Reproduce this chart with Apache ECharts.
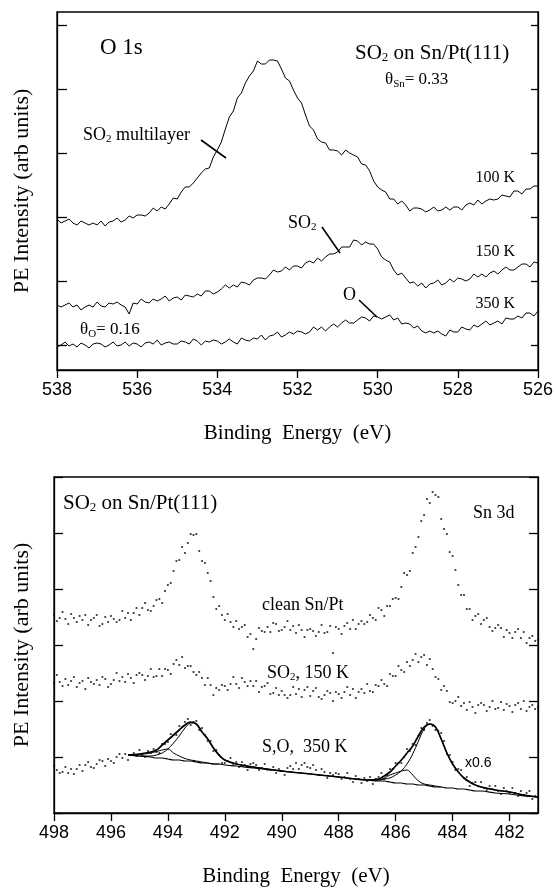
<!DOCTYPE html>
<html>
<head>
<meta charset="utf-8">
<script src="https://cdn.jsdelivr.net/npm/echarts@6/dist/echarts.min.js"></script>
<style>html,body{margin:0;padding:0;background:#fff}#main{width:556px;height:888px}</style>
</head>
<body>
<div id="main"></div>
<script>
/* O 1s spectra, binding energy 538.0 -> 526.0 eV, step 0.1 */
var o1sStart = 538.0, o1sStep = 0.1;
var o1s100 = [
151,147,149,151,147,145,149,147,145,147,
145,149,144,148,149,152,148,150,154,152,
155,155,154,157,162,159,163,161,166,172,
171,178,183,183,187,192,197,201,202,213,
220,228,241,253,259,272,277,287,294,299,
309,306,306,310,310,309,301,292,289,280,
272,267,255,244,240,231,228,227,220,220,
219,215,220,217,215,213,206,205,199,189,
183,180,178,171,171,166,169,165,159,162,
162,161,158,160,163,159,160,163,160,163,
163,160,165,167,165,170,166,169,171,170,
171,175,174,173,179,179,176,181,181,184,
184];
var o1s150 = [
65,63,65,67,63,65,60,63,65,63,
68,64,63,67,66,68,65,63,56,67,
66,71,68,67,71,69,71,74,69,72,
73,70,75,74,73,76,74,79,79,76,
78,81,85,82,85,83,88,87,85,90,
92,92,91,95,100,98,99,103,100,104,
104,102,107,109,107,112,109,113,116,116,
118,123,123,123,130,129,125,128,126,126,
121,113,110,108,100,95,97,92,87,88,
84,87,82,86,87,90,85,87,91,88,
92,91,89,91,96,93,96,93,97,99,
96,100,103,100,100,103,106,106,103,108,
107];
var o1s350 = [
23,25,28,24,26,23,27,25,22,26,
27,26,23,25,28,24,25,28,24,27,
26,23,27,28,26,30,25,27,28,26,
26,29,28,26,31,29,25,29,28,30,
29,26,28,31,28,26,32,30,29,32,
31,35,30,34,35,38,33,35,38,36,
39,38,36,38,43,40,43,39,43,46,
43,47,50,47,47,50,53,52,49,54,
53,51,53,55,50,52,46,47,46,42,
44,39,37,39,37,39,36,34,40,38,
38,43,41,40,45,43,46,49,45,47,
49,46,52,51,51,54,52,57,57,54,
59];
var o1sTicksY = [25, 89, 153, 217, 281, 345];

/* Sn 3d spectra, binding energy 498.0 -> 481.0 eV, step 0.1 */
var sn3dStart = 498.0, sn3dStep = 0.1;
var snClean = [
198,192,195,201,194,189,199,195,191,197,
193,198,188,193,195,198,187,189,196,191,
197,194,191,193,202,195,200,193,200,205,
198,205,210,203,202,207,213,214,210,222,
228,230,242,252,253,266,260,270,279,278,
279,262,252,250,240,232,216,204,207,198,
193,199,191,186,192,184,186,188,176,179,
164,174,185,182,181,186,181,190,189,182,
183,186,192,183,187,180,188,183,176,183,
184,182,177,181,188,180,181,187,160,186,
184,179,187,190,184,193,184,189,192,189,
191,198,195,193,205,203,197,207,207,214,
215,214,226,240,238,242,260,266,276,292,
298,314,310,321,318,316,294,284,279,261,
257,243,228,218,218,204,204,193,197,199,
189,193,195,186,182,185,188,185,176,183,
180,175,181,184,175,181,170,175,177,172,
173];
var snSO2 = [
130,138,131,127,134,128,132,136,126,130,
132,124,135,131,129,133,128,136,134,126,
129,133,140,132,136,131,139,135,130,138,
140,138,133,137,144,136,137,144,137,144,
143,139,149,153,148,156,145,147,147,141,
138,141,135,128,135,128,118,125,123,128,
127,123,129,136,129,125,135,131,127,132,
127,132,121,126,127,130,119,120,125,118,
122,118,115,118,126,119,124,116,123,126,
117,122,125,116,114,118,122,120,112,121,
119,115,121,126,118,124,115,121,124,120,
129,122,121,128,127,133,129,127,139,137,
137,147,143,141,151,147,153,159,151,156,
158,148,154,144,136,134,123,127,122,111,
110,112,116,107,110,103,111,106,100,108,
110,108,102,106,112,104,105,111,103,109,
107,101,108,110,104,112,102,106,108,104,
106];
var snSO350 = [
47,43,40,41,46,40,44,39,44,48,
42,48,51,46,45,49,53,52,47,54,
52,50,56,59,55,59,53,58,60,57,
63,58,56,62,60,64,61,60,69,69,
71,79,78,78,87,86,91,94,88,91,
92,83,85,78,72,72,62,63,58,50,
50,52,55,49,51,46,51,48,43,49,
50,48,43,45,49,43,43,46,40,44,
42,38,45,47,44,50,44,48,50,46,
45,48,43,38,44,41,35,40,38,40,
39,34,36,40,34,31,37,34,30,35,
32,36,29,34,36,40,34,38,44,44,
50,50,50,56,64,62,69,68,77,85,
83,90,93,87,83,82,80,72,59,58,
51,43,44,43,35,36,27,30,31,27,
31,25,23,27,24,27,22,19,25,22,
20,25,20,17,22,18,20,22,14,17,
16];

/* fit of the 350 K spectrum */
var fitE = [495.4,495.0,494.6,494.4,494.2,494.0,493.8,493.6,493.4,493.2,
            493.0,492.8,492.6,492.4,492.2,492.0,491.6,491.0,490.0,489.0,
            488.0,487.0,486.6,486.4,486.2,486.0,485.8,485.6,485.4,485.2,
            485.0,484.8,484.6,484.4,484.2,484.0,483.8,483.6,483.4,483.2,
            483.0,482.5,482.0,481.5,481.0];
var fitBg = [58,57,56,55,55,54,53,53,52,52, 51,50,50,49,49,48,47,45,42,39,
             36,33,32,32,31,30,30,29,29,28, 28,27,26,26,25,25,24,24,23,22,
             22,20,19,17,16];
var fitSum = [58,59,61,63,68,73,78,83,88,91, 89,81,74,65,58,53,49,46,42,39,
              36,33,34,37,41,47,53,60,67,77, 86,89,86,74,60,49,41,35,31,28,
              26,23,21,18,16];
var fitA = [58,57,57,58,60,64,70,77,85,90, 89,81,74,65,57,53,49,46,42,null,
            null,null,null,null,null,null,null,null,null,null, null,null,null,null,null,null,null,null,null,null,
            null,null,null,null,null];
var fitB = [58,58.5,60,61.5,63,64,60,57,54.5,53, 52,51,50,49,49,null,null,null,null,null,
            null,null,null,null,null,null,null,null,null,null, null,null,null,null,null,null,null,null,null,null,
            null,null,null,null,null];
var fitC = [null,null,null,null,null,null,null,null,null,null, null,null,null,null,null,null,null,null,null,null,
            null,33,33,35,38,40,42,43,38,32, 29,28,27,26,null,null,null,null,null,null,
            null,null,null,null,null];
var fitD = [null,null,null,null,null,null,null,null,null,null, null,null,null,null,null,null,null,null,null,null,
            null,33,33,34,35,38,42,49,59,72, 84,89,86,74,60,49,41,35,31,28,
            26,23,21,18,16];
var sn3dTicksX = [498,496,494,492,490,488,486,484,482];

function grid(e0, step, arr) {
    return arr.map(function(v, i){ return [+(e0 - i*step).toFixed(2), v]; });
}
function fitPairs(arr) {
    var out = [];
    for (var i = 0; i < arr.length; i++) {
        if (arr[i] != null) out.push([fitE[i], arr[i]]);
    }
    return out;
}

var serif = 'Liberation Serif';
var sans = 'Liberation Sans';
var black = '#000';

function xAx(gi, mn, mx, ticks) {
    var a = {
        gridIndex: gi, type: 'value', min: mn, max: mx, inverse: true,
        axisLine: {show: true, onZero: false, lineStyle: {color: black, width: 1.3}},
        axisTick: {show: true, inside: false, length: 8, lineStyle: {color: black, width: 1.3}},
        axisLabel: {color: black, fontFamily: sans, fontSize: 18, margin: 11, showMinLabel: true, showMaxLabel: true},
        splitLine: {show: false},
        name: 'Binding  Energy  (eV)', nameLocation: 'middle', nameGap: 53,
        nameTextStyle: {fontFamily: serif, fontSize: 21, color: black}
    };
    if (ticks) {
        a.axisTick.customValues = ticks;
        a.axisLabel.customValues = ticks;
    } else {
        a.interval = 2;
    }
    return a;
}
function yAx(gi, mx, side, len, ticks, withName, gap) {
    var a = {
        gridIndex: gi, type: 'value', min: 0, max: mx, position: side,
        axisLine: {show: true, onZero: false, lineStyle: {color: black, width: 1.3}},
        axisTick: {show: true, inside: true, length: len, lineStyle: {color: black, width: 1.3}},
        axisLabel: {show: false},
        splitLine: {show: false}
    };
    if (ticks) a.axisTick.customValues = ticks; else a.interval = 56;
    if (withName) {
        a.name = 'PE Intensity (arb units)';
        a.nameLocation = 'middle';
        a.nameGap = gap;
        a.nameTextStyle = {fontFamily: serif, fontSize: 22, color: black};
    }
    return a;
}

function spec(data) {
    return {type: 'line', xAxisIndex: 0, yAxisIndex: 0, data: data, showSymbol: false,
            lineStyle: {color: black, width: 1}, silent: true};
}
function dots(data) {
    return {type: 'scatter', xAxisIndex: 1, yAxisIndex: 2, data: data, symbolSize: 2.2,
            itemStyle: {color: black}, silent: true};
}
function fit(data, w) {
    return {type: 'line', xAxisIndex: 1, yAxisIndex: 2, data: data, showSymbol: false, smooth: 0.35,
            lineStyle: {color: black, width: w}, silent: true};
}

var rich = function(big, small, drop) {
    return {
        a: {fontFamily: serif, fontSize: big, fill: black},
        s: {fontFamily: serif, fontSize: small, fill: black, padding: [drop, 0, 0, 0]}
    };
};
function txt(x, y, text, size, opt) {
    opt = opt || {};
    var st = {text: text, fontFamily: opt.font || serif, fontSize: size, fill: black,
              align: opt.align || 'left', verticalAlign: 'middle'};
    if (opt.rich) st.rich = opt.rich;
    return {type: 'text', x: x, y: y, style: st, silent: true};
}
function ptr(x1, y1, x2, y2) {
    return {type: 'line', shape: {x1: x1, y1: y1, x2: x2, y2: y2},
            style: {stroke: black, lineWidth: 1.6}, silent: true};
}

var chart = echarts.init(document.getElementById('main'));
var option = {
    animation: false,
    backgroundColor: '#fff',
    grid: [
        {left: 57, top: 12, width: 482, height: 358, show: true, borderColor: black, borderWidth: 1.3},
        {left: 54, top: 477, width: 484, height: 336, show: true, borderColor: black, borderWidth: 1.3}
    ],
    xAxis: [
        xAx(0, 526, 538, null),
        xAx(1, 481, 498, sn3dTicksX)
    ],
    yAxis: [
        yAx(0, 358, 'left', 10, o1sTicksY, true, 24),
        yAx(0, 358, 'right', 7, o1sTicksY, false),
        yAx(1, 336, 'left', 9, null, true, 21),
        yAx(1, 336, 'right', 9, null, false)
    ],
    series: [
        spec(grid(o1sStart, o1sStep, o1s100)),
        spec(grid(o1sStart, o1sStep, o1s150)),
        spec(grid(o1sStart, o1sStep, o1s350)),
        dots(grid(sn3dStart, sn3dStep, snClean)),
        dots(grid(sn3dStart, sn3dStep, snSO2)),
        dots(grid(sn3dStart, sn3dStep, snSO350)),
        fit(fitPairs(fitBg), 1.2),
        fit(fitPairs(fitA), 1),
        fit(fitPairs(fitB), 1),
        fit(fitPairs(fitC), 1),
        fit(fitPairs(fitD), 1),
        fit(fitPairs(fitSum), 1.7)
    ],
    graphic: [
        txt(100, 48, 'O 1s', 23),
        txt(355, 53, '{a|SO}{s|2}{a| on Sn/Pt(111)}', 21, {rich: rich(21, 13, 10)}),
        txt(385, 80, '{a|θ}{s|Sn}{a|= 0.33}', 17, {rich: rich(17, 11, 9)}),
        txt(83, 135, '{a|SO}{s|2}{a| multilayer}', 18, {rich: rich(18, 11, 9)}),
        ptr(201, 140, 226, 158),
        txt(515, 178, '100 K', 16, {align: 'right'}),
        txt(288, 223, '{a|SO}{s|2}', 18, {rich: rich(18, 11, 9)}),
        ptr(322, 227, 340, 253),
        txt(515, 252, '150 K', 16, {align: 'right'}),
        txt(343, 295, 'O', 18),
        ptr(359, 300, 377, 317),
        txt(515, 304, '350 K', 16, {align: 'right'}),
        txt(80, 330, '{a|θ}{s|O}{a|= 0.16}', 17, {rich: rich(17, 11, 9)}),
        txt(63, 503, '{a|SO}{s|2}{a| on Sn/Pt(111)}', 21, {rich: rich(21, 13, 10)}),
        txt(473, 513, 'Sn 3d', 18),
        txt(262, 605, 'clean Sn/Pt', 18),
        txt(267, 673, '{a|SO}{s|2}{a|, 150 K}', 18, {rich: rich(18, 11, 9)}),
        txt(262, 747, 'S,O,  350 K', 18),
        txt(465, 763, 'x0.6', 14, {font: sans})
    ]
};
chart.setOption(option);
</script>
</body>
</html>
